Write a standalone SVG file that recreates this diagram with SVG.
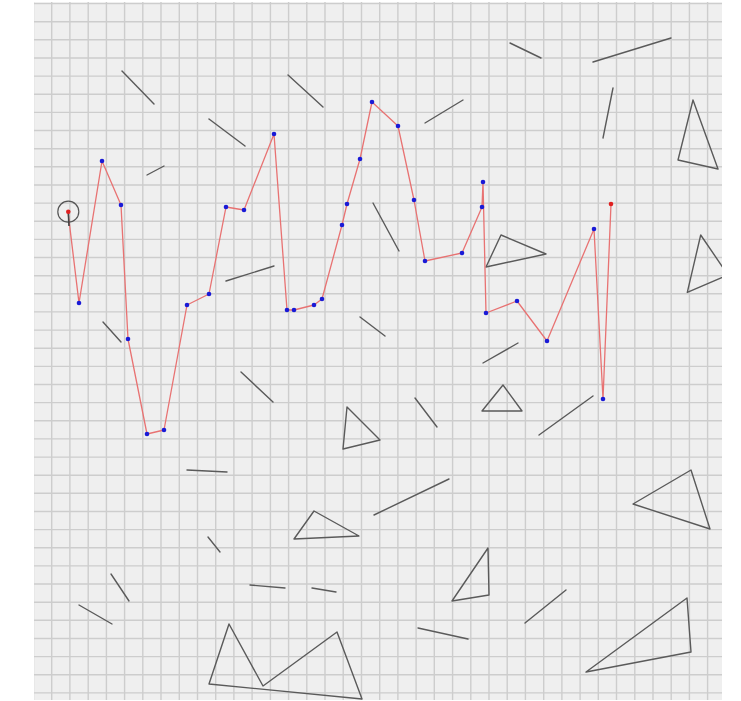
<svg xmlns="http://www.w3.org/2000/svg" width="741" height="701" viewBox="0 0 741 701">
<style>
.grid{stroke:#cdcdcd;stroke-width:1.4;fill:none}
.obs{stroke:#5a5a5a;stroke-width:1.4;fill:none;stroke-linecap:round;stroke-linejoin:round}
.route{stroke:#e87272;stroke-width:1.3;fill:none;stroke-linejoin:round}
.wp{fill:#1a1ad6}
.end{fill:#e02020}
</style>
<defs>
<clipPath id="area"><rect x="34" y="2" width="688" height="698"/></clipPath>
</defs>
<rect width="741" height="701" fill="#ffffff"/>
<g id="field" clip-path="url(#area)">
<rect x="34" y="2" width="688" height="698" fill="#efefef"/>
<path class="grid" d="M33.5 0V701M51.7 0V701M69.9 0V701M88.2 0V701M106.4 0V701M124.6 0V701M142.8 0V701M161 0V701M179.3 0V701M197.5 0V701M215.7 0V701M233.9 0V701M252.1 0V701M270.4 0V701M288.6 0V701M306.8 0V701M325 0V701M343.2 0V701M361.5 0V701M379.7 0V701M397.9 0V701M416.1 0V701M434.3 0V701M452.6 0V701M470.8 0V701M489 0V701M507.2 0V701M525.4 0V701M543.7 0V701M561.9 0V701M580.1 0V701M598.3 0V701M616.5 0V701M634.8 0V701M653 0V701M671.2 0V701M689.4 0V701M707.6 0V701
M0 3.6H741M0 21.7H741M0 39.8H741M0 58H741M0 76.1H741M0 94.3H741M0 112.4H741M0 130.5H741M0 148.7H741M0 166.8H741M0 185H741M0 203.1H741M0 221.2H741M0 239.4H741M0 257.5H741M0 275.7H741M0 293.8H741M0 311.9H741M0 330.1H741M0 348.2H741M0 366.4H741M0 384.5H741M0 402.6H741M0 420.8H741M0 438.9H741M0 457.1H741M0 475.2H741M0 493.3H741M0 511.5H741M0 529.6H741M0 547.8H741M0 565.9H741M0 584H741M0 602.2H741M0 620.3H741M0 638.5H741M0 656.6H741M0 674.7H741M0 692.9H741"/>
<g id="obstacles">
<line class="obs" x1="122" y1="71" x2="154" y2="104"/>
<line class="obs" x1="209" y1="119" x2="245" y2="146"/>
<line class="obs" x1="147" y1="175" x2="164" y2="166"/>
<line class="obs" x1="288" y1="75" x2="323" y2="107"/>
<line class="obs" x1="425" y1="123" x2="463" y2="100"/>
<line class="obs" x1="373" y1="203" x2="399" y2="251"/>
<line class="obs" x1="510" y1="43" x2="541" y2="58"/>
<line class="obs" x1="593" y1="62" x2="671" y2="38"/>
<line class="obs" x1="613" y1="88" x2="603" y2="138"/>
<polygon class="obs" points="693,100 678,160 718,169"/>
<polygon class="obs" points="501,235 546,254 486,267"/>
<polygon class="obs" points="700.7,235 687.3,292.3 728,275"/>
<line class="obs" x1="226" y1="281" x2="274" y2="266"/>
<line class="obs" x1="103" y1="322" x2="121" y2="342"/>
<line class="obs" x1="241" y1="372" x2="273" y2="402"/>
<line class="obs" x1="187" y1="470" x2="227" y2="472"/>
<line class="obs" x1="360" y1="317" x2="385" y2="336"/>
<line class="obs" x1="483" y1="363" x2="518" y2="343"/>
<polygon class="obs" points="347,407 380,440 343,449"/>
<line class="obs" x1="415" y1="398" x2="437" y2="427"/>
<polygon class="obs" points="503,385 522,411 482,411"/>
<line class="obs" x1="539" y1="435" x2="593" y2="396"/>
<line class="obs" x1="374" y1="515" x2="449" y2="479"/>
<polygon class="obs" points="691,470 710,529 633,504"/>
<polygon class="obs" points="314,511 359,536 294,539"/>
<polygon class="obs" points="488,548 489,595 452,601"/>
<line class="obs" x1="208" y1="537" x2="220" y2="552"/>
<line class="obs" x1="111" y1="574" x2="129" y2="601"/>
<line class="obs" x1="79" y1="605" x2="112" y2="624"/>
<line class="obs" x1="250" y1="585" x2="285" y2="588"/>
<line class="obs" x1="312" y1="588" x2="336" y2="592"/>
<line class="obs" x1="418" y1="628" x2="468" y2="639"/>
<line class="obs" x1="525" y1="623" x2="566" y2="590"/>
<polygon class="obs" points="586,672 687,598 691,652"/>
<polygon class="obs" points="209,684 229,624 263,686 337,632 362,699"/>
</g>
<g id="route">
<polyline class="route" points="68,212 79,303 102,161 121,205 128,339 147,434 164,430 187,305 209,294 226,207 244,210 274,134 287,310 294,310 314,305 322,299 342,225 347,204 360,159 372,102 398,126 414,200 425,261 462,253 482,207 483,182 486,313 517,301 547,341 594,229 603,399 611,204"/>
</g>
<g id="start">
<circle cx="68.3" cy="211.7" r="10.5" fill="none" stroke="#555" stroke-width="1.2"/>
<line x1="68.3" y1="211.7" x2="69" y2="226" stroke="#444" stroke-width="1.6"/>
<circle class="end" cx="68.3" cy="211.7" r="2.3"/>
</g>
<g id="goal">
<circle class="end" cx="611" cy="204" r="2.3"/>
</g>
<g id="waypoints">
<circle class="wp" cx="79" cy="303" r="2.3"/>
<circle class="wp" cx="102" cy="161" r="2.3"/>
<circle class="wp" cx="121" cy="205" r="2.3"/>
<circle class="wp" cx="128" cy="339" r="2.3"/>
<circle class="wp" cx="147" cy="434" r="2.3"/>
<circle class="wp" cx="164" cy="430" r="2.3"/>
<circle class="wp" cx="187" cy="305" r="2.3"/>
<circle class="wp" cx="209" cy="294" r="2.3"/>
<circle class="wp" cx="226" cy="207" r="2.3"/>
<circle class="wp" cx="244" cy="210" r="2.3"/>
<circle class="wp" cx="274" cy="134" r="2.3"/>
<circle class="wp" cx="287" cy="310" r="2.3"/>
<circle class="wp" cx="294" cy="310" r="2.3"/>
<circle class="wp" cx="314" cy="305" r="2.3"/>
<circle class="wp" cx="322" cy="299" r="2.3"/>
<circle class="wp" cx="342" cy="225" r="2.3"/>
<circle class="wp" cx="347" cy="204" r="2.3"/>
<circle class="wp" cx="360" cy="159" r="2.3"/>
<circle class="wp" cx="372" cy="102" r="2.3"/>
<circle class="wp" cx="398" cy="126" r="2.3"/>
<circle class="wp" cx="414" cy="200" r="2.3"/>
<circle class="wp" cx="425" cy="261" r="2.3"/>
<circle class="wp" cx="462" cy="253" r="2.3"/>
<circle class="wp" cx="482" cy="207" r="2.3"/>
<circle class="wp" cx="483" cy="182" r="2.3"/>
<circle class="wp" cx="486" cy="313" r="2.3"/>
<circle class="wp" cx="517" cy="301" r="2.3"/>
<circle class="wp" cx="547" cy="341" r="2.3"/>
<circle class="wp" cx="594" cy="229" r="2.3"/>
<circle class="wp" cx="603" cy="399" r="2.3"/>
</g>
</g>
</svg>
